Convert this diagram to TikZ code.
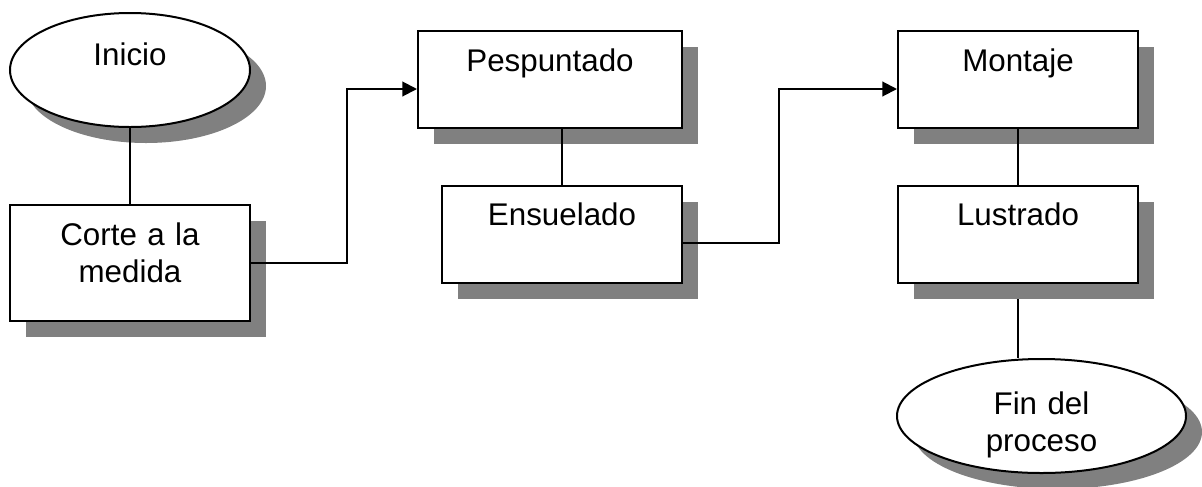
\documentclass[tikz,border=0pt]{standalone}
\usepackage{fontspec}
\setmainfont{Liberation Sans}
\usetikzlibrary{arrows.meta, positioning, shapes.geometric, shadows, backgrounds, calc}
\definecolor{SG}{RGB}{128,128,128}

\begin{document}
\begin{tikzpicture}[
  x=0.75pt, y=-0.75pt,
  every node/.style={font=\fontsize{23.5}{27.75}\selectfont},
  shad/.style={drop shadow={shadow xshift=12pt, shadow yshift=-12pt,
               fill=SG, opacity=1}},
  proc/.style={draw, line width=1.5pt, fill=white, shad, rectangle,
               inner sep=0pt, minimum width=180pt, text width=170pt,
               align=center, text height=30pt, text depth=#1},
  term/.style={draw, line width=1.5pt, fill=white, shad, ellipse,
               inner sep=0pt, text width=100pt, align=center,
               text height=22.5pt, text depth=#1},
  link/.style={line width=1.5pt},
  flow/.style={link, -{Triangle[length=11pt, width=11pt]}}
]
\useasboundingbox (0,0) rectangle (1202,486);

% Column 1
\node[term=30pt, minimum width=180pt, minimum height=85.5pt] (I) at (130,70) {Inicio};
\node[proc=57pt] (C) at (130,263) {Corte a la\\medida};
\draw[link] (I) -- (C);

% Column 2
\node[proc=42.75pt, minimum width=198pt] (P) at (550,79.5) {Pespuntado};
\node[proc=42.75pt] (E) at (562,234) {Ensuelado};
\draw[link] (E.north) -- (E.north |- P.south);
\draw[flow] (C.east) -- ++(96,0) |- ([shift={(0,9.5)}]P.west);

% Column 3
\node[proc=42.75pt] (M) at (1018,79.5) {Montaje};
\node[proc=42.75pt] (L) at (1018,234) {Lustrado};
\node[term=25.5pt, minimum width=216.75pt, minimum height=85.5pt] (F) at (1041.5,416) {Fin del\\proceso};
\draw[link] (M) -- (L);
\draw[flow] ([shift={(0,9)}]E.east) -- ++(96,0) |- ([shift={(0,9.5)}]M.west);
\begin{scope}[on background layer]
  \draw[link] (L.south) -- (F.north -| L.south);
\end{scope}
\end{tikzpicture}
\end{document}
